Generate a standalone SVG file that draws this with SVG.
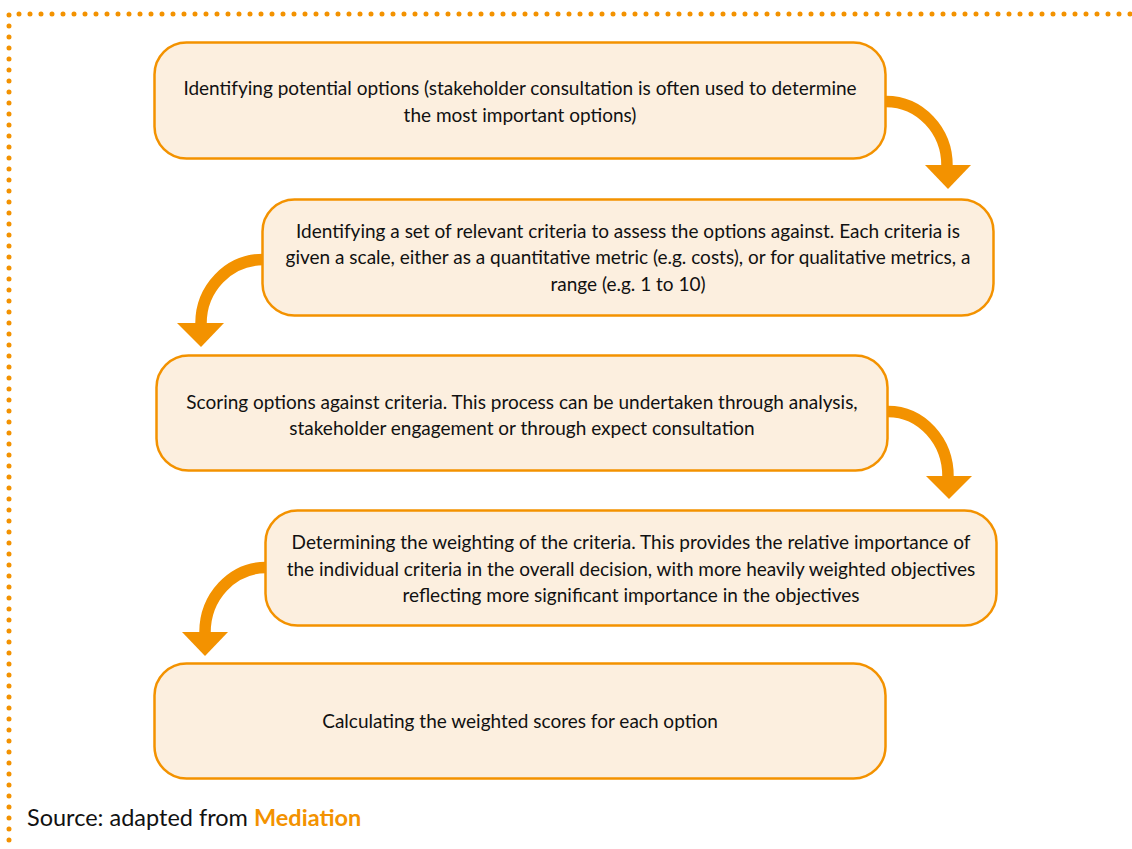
<svg xmlns="http://www.w3.org/2000/svg" width="1132" height="849" viewBox="0 0 1132 849">
<style>
.box{fill:#fcefdf;stroke:#f39200;stroke-width:2.5}
.t{font-family:Lato,"Open Sans",sans-serif;font-size:19px;fill:#111111;text-anchor:middle}
.arc{fill:none;stroke:#f39200;stroke-width:11.5}
.head{fill:#f39200}
.dots{fill:none;stroke:#f39200;stroke-width:5;stroke-linecap:round;stroke-dasharray:0 11}
</style>
<rect width="1132" height="849" fill="#ffffff"/>
<path class="dots" d="M1130 14 H9 V849"/>
<g id="n1"><rect class="box" x="154.5" y="42.5" width="731" height="116" rx="32"/>
<text class="t" x="520" y="95">Identifying potential options (stakeholder consultation is often used to determine</text>
<text class="t" x="520" y="122">the most important options)</text></g>
<g id="n2"><rect class="box" x="262.5" y="199.5" width="731" height="116" rx="32"/>
<text class="t" x="628" y="238">Identifying a set of relevant criteria to assess the options against. Each criteria is</text>
<text class="t" x="628" y="264">given a scale, either as a quantitative metric (e.g. costs), or for qualitative metrics, a</text>
<text class="t" x="628" y="291">range (e.g. 1 to 10)</text></g>
<g id="n3"><rect class="box" x="156.5" y="355.5" width="731" height="115" rx="32"/>
<text class="t" x="522" y="409">Scoring options against criteria. This process can be undertaken through analysis,</text>
<text class="t" x="522" y="435">stakeholder engagement or through expect consultation</text></g>
<g id="n4"><rect class="box" x="265.5" y="510.5" width="731" height="115" rx="32"/>
<text class="t" x="631" y="549">Determining the weighting of the criteria. This provides the relative importance of</text>
<text class="t" x="631" y="576">the individual criteria in the overall decision, with more heavily weighted objectives</text>
<text class="t" x="631" y="602">reflecting more significant importance in the objectives</text></g>
<g id="n5"><rect class="box" x="154.5" y="663.5" width="731" height="115" rx="32"/>
<text class="t" x="520" y="728">Calculating the weighted scores for each option</text></g>
<g id="connectors">
<path class="arc" d="M886 101.5 A61 64 0 0 1 947 166"/>
<polygon class="head" points="925,165 971,165 948,189"/>
<path class="arc" d="M263 259.5 A62 64 0 0 0 201 324"/>
<polygon class="head" points="177,323 224,323 201,347"/>
<path class="arc" d="M888 411.5 A60 65 0 0 1 948 477"/>
<polygon class="head" points="926,476 972,476 949,499"/>
<path class="arc" d="M266 567.5 A61 65 0 0 0 205 633"/>
<polygon class="head" points="182,632 228,632 205,656"/>
</g>
<text x="27" y="826" style="font-family:Lato,'Open Sans',sans-serif;font-size:23.5px;fill:#111111">Source: adapted from <tspan style="font-weight:bold;fill:#f39200">Mediation</tspan></text>
</svg>
